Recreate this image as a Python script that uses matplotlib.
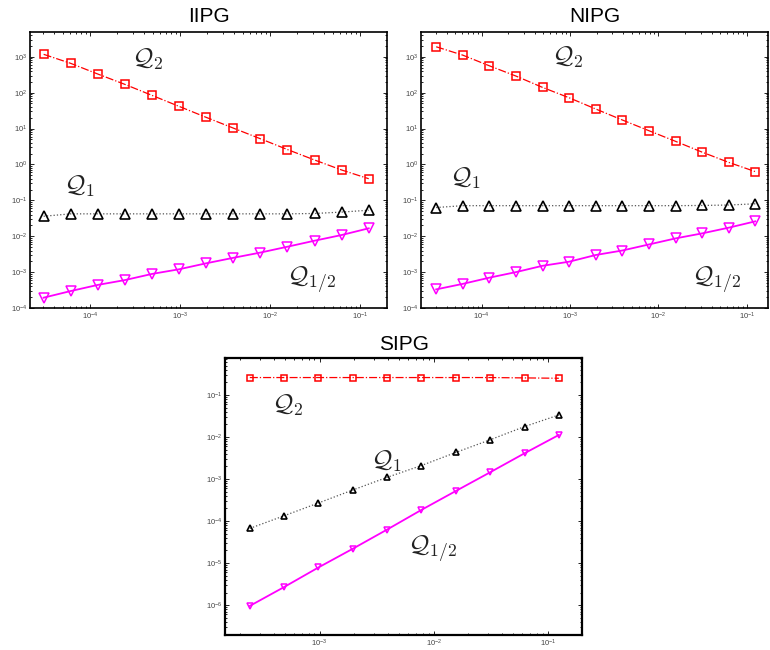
import numpy as np
import matplotlib
matplotlib.use('Agg')
import matplotlib.pyplot as plt
from matplotlib.ticker import LogLocator, NullFormatter

plt.rcParams['font.family'] = ['Liberation Sans', 'DejaVu Sans']
plt.rcParams['mathtext.fontset'] = 'cm'

# mesh sizes h = 2^-3 ... 2^-15 (top) and 2^-3 ... 2^-12 (bottom)
h_top = 2.0 ** -np.arange(15, 2, -1)
h_bot = 2.0 ** -np.arange(12, 2, -1)

# IIPG
iipg_q2 = [1170, 655, 330, 170, 84, 41.5, 20.5, 10.3, 5.2, 2.6, 1.33, 0.70, 0.40]
iipg_q1 = [0.036, 0.042, 0.042, 0.042, 0.042, 0.042, 0.042, 0.042, 0.042, 0.042, 0.043, 0.047, 0.053]
iipg_qh = [1.94e-4, 2.97e-4, 4.4e-4, 6.0e-4, 8.9e-4, 1.2e-3, 1.76e-3, 2.5e-3, 3.5e-3, 5.1e-3, 7.5e-3, 1.08e-2, 1.66e-2]

# NIPG
nipg_q2 = [1900, 1110, 560, 290, 140, 72, 35, 17.3, 8.7, 4.4, 2.2, 1.14, 0.63]
nipg_q1 = [0.063, 0.071, 0.071, 0.071, 0.071, 0.071, 0.071, 0.071, 0.071, 0.071, 0.072, 0.074, 0.080]
nipg_qh = [3.3e-4, 4.7e-4, 7.0e-4, 1.0e-3, 1.5e-3, 1.95e-3, 3.0e-3, 4.0e-3, 5.9e-3, 8.7e-3, 1.2e-2, 1.73e-2, 2.6e-2]

# SIPG
sipg_q2 = [0.26, 0.26, 0.26, 0.26, 0.26, 0.26, 0.26, 0.26, 0.255, 0.25]
sipg_q1 = [6.7e-5, 1.34e-4, 2.7e-4, 5.5e-4, 1.1e-3, 2.1e-3, 4.3e-3, 8.6e-3, 1.77e-2, 3.35e-2]
sipg_qh = [9.6e-7, 2.7e-6, 7.9e-6, 2.2e-5, 6.3e-5, 1.85e-4, 5.2e-4, 1.45e-3, 4.1e-3, 1.12e-2]

labels = [r'$\mathcal{Q}_2$', r'$\mathcal{Q}_1$', r'$\mathcal{Q}_{1/2}$']

fig = plt.figure(figsize=(7.7, 6.5), dpi=100)


def style_axes(ax, xlim, ylim, lw):
    ax.set_xscale('log')
    ax.set_yscale('log')
    ax.set_xlim(*xlim)
    ax.set_ylim(*ylim)
    ax.xaxis.set_major_locator(LogLocator(base=10, numticks=20))
    ax.yaxis.set_major_locator(LogLocator(base=10, numticks=20))
    ax.xaxis.set_minor_locator(LogLocator(base=10, subs=np.arange(2, 10), numticks=20))
    ax.yaxis.set_minor_locator(LogLocator(base=10, subs=np.arange(2, 10), numticks=20))
    ax.xaxis.set_minor_formatter(NullFormatter())
    ax.yaxis.set_minor_formatter(NullFormatter())
    ax.tick_params(which='both', direction='in', top=True, right=True,
                   labelsize=5.5, labelcolor='#444444', width=0.6)
    ax.tick_params(which='major', length=3)
    ax.tick_params(which='minor', length=1.5)
    ax.tick_params(axis='y', pad=2)
    ax.tick_params(axis='x', pad=2)
    for s in ax.spines.values():
        s.set_linewidth(lw)


def draw(ax, x, q2, q1, qh, big=True):
    ms_sq = 6 if big else 3.8
    ms_tr = 7.5 if big else 4.8
    ax.plot(x, q2, color='#ff0000', ls='-.', lw=0.9, marker='s', ms=ms_sq,
            mfc='none', mec='#ff0000', mew=1.1)
    ax.plot(x, q1, color='#555555', ls=':', lw=0.9, marker='^', ms=ms_tr,
            mfc='none', mec='black', mew=1.2)
    ax.plot(x, qh, color='#ff00ff', ls='-', lw=1.3, marker='v', ms=ms_tr,
            mfc='none', mec='#ff00ff', mew=1.1)


def put_labels(ax, spots):
    for txt, (fx, fy) in zip(labels, spots):
        ax.text(fx, fy, txt, transform=ax.transAxes, fontsize=18,
                color='#222222', va='baseline')


# top left: IIPG
ax1 = fig.add_axes([30 / 770, 1 - 308 / 650, 357 / 770, 276 / 650])
draw(ax1, h_top, iipg_q2, iipg_q1, iipg_qh)
style_axes(ax1, (10 ** -4.667, 10 ** -0.7), (1e-4, 10 ** 3.69), 1.2)
ax1.set_title('IIPG', fontsize=15, pad=7)
put_labels(ax1, [(0.286, 0.877), (0.095, 0.417), (0.72, 0.083)])

# top right: NIPG
ax2 = fig.add_axes([421 / 770, 1 - 308 / 650, 347 / 770, 276 / 650])
draw(ax2, h_top, nipg_q2, nipg_q1, nipg_qh)
style_axes(ax2, (10 ** -4.687, 10 ** -0.76), (1e-4, 10 ** 3.69), 1.2)
ax2.set_title('NIPG', fontsize=15, pad=7)
put_labels(ax2, [(0.377, 0.884), (0.084, 0.446), (0.78, 0.083)])

# bottom: SIPG
ax3 = fig.add_axes([225 / 770, 1 - 635 / 650, 357 / 770, 277 / 650])
draw(ax3, h_bot, sipg_q2, sipg_q1, sipg_qh, big=False)
style_axes(ax3, (10 ** -3.83, 10 ** -0.70), (10 ** -6.71, 10 ** -0.12), 1.6)
ax3.set_title('SIPG', fontsize=15, pad=6)
put_labels(ax3, [(0.131, 0.806), (0.408, 0.602), (0.513, 0.295)])

fig.savefig('out.png', dpi=100)
